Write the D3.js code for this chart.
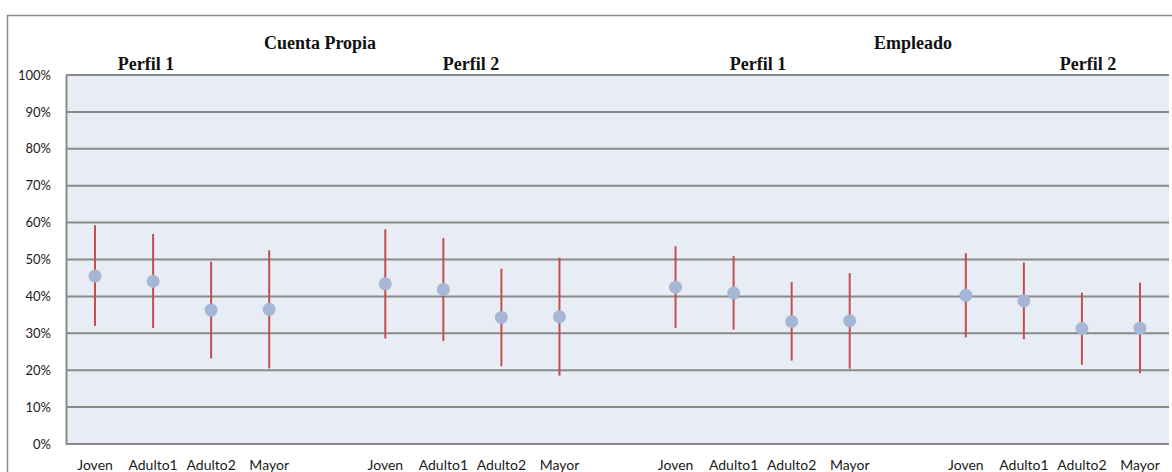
<!DOCTYPE html>
<html>
<head>
<meta charset="utf-8">
<script src="https://cdn.jsdelivr.net/npm/d3@7"></script>
<style>
  html, body { margin: 0; padding: 0; background: #ffffff; }
  svg { display: block; }
</style>
</head>
<body>
<svg id="chart" width="1172" height="472"></svg>
<script>
// Age categories shown within each profile group
const categories = ["Joven", "Adulto1", "Adulto2", "Mayor"];

// Sector / profile groups, left to right
const groups = ["CP-P1", "CP-P2", "E-P1", "E-P2"];

// Estimated share (%) per group, with the lower and upper bounds of each interval
const meanCP1 = [45.5, 44.1, 36.3, 36.5];
const lowCP1  = [32.0, 31.4, 23.2, 20.5];
const highCP1 = [59.3, 56.9, 49.4, 52.5];

const meanCP2 = [43.4, 41.9, 34.3, 34.5];
const lowCP2  = [28.6, 27.9, 21.1, 18.5];
const highCP2 = [58.2, 55.8, 47.5, 50.5];

const meanE1 = [42.5, 40.9, 33.2, 33.4];
const lowE1  = [31.4, 31.0, 22.6, 20.4];
const highE1 = [53.6, 50.9, 43.9, 46.3];

const meanE2 = [40.3, 38.8, 31.3, 31.4];
const lowE2  = [28.9, 28.4, 21.5, 19.2];
const highE2 = [51.7, 49.2, 41.0, 43.7];

// Y axis ticks (percent)
const yTicks = [0, 10, 20, 30, 40, 50, 60, 70, 80, 90, 100];

const seriesByGroup = {
  "CP-P1": { mean: meanCP1, low: lowCP1, high: highCP1 },
  "CP-P2": { mean: meanCP2, low: lowCP2, high: highCP2 },
  "E-P1":  { mean: meanE1,  low: lowE1,  high: highE1 },
  "E-P2":  { mean: meanE2,  low: lowE2,  high: highE2 }
};

// One slot per category, with an empty slot after each group
const slots = [];
groups.forEach((g, gi) => {
  categories.forEach(c => slots.push({ key: g + "|" + c, group: g, cat: c, empty: false }));
  if (gi < groups.length - 1) slots.push({ key: g + "|gap", group: g, cat: "", empty: true });
});

const points = [];
groups.forEach(g => {
  const s = seriesByGroup[g];
  categories.forEach((c, i) => {
    points.push({ key: g + "|" + c, mean: s.mean[i], low: s.low[i], high: s.high[i] });
  });
});

const svg = d3.select("#chart");

const plot = { left: 66, right: 1169, top: 75, bottom: 444 };

const x = d3.scaleBand()
  .domain(slots.map(d => d.key))
  .range([plot.left, plot.right])
  .paddingInner(0)
  .paddingOuter(0);

const y = d3.scaleLinear()
  .domain([0, 100])
  .range([plot.bottom, plot.top]);

const cx = k => x(k) + x.bandwidth() / 2;

// Outer chart frame
svg.append("rect")
  .attr("x", 7.5).attr("y", 15.5)
  .attr("width", 1180).attr("height", 480)
  .attr("fill", "none")
  .attr("stroke", "#8c8c8c")
  .attr("stroke-width", 1.5);

// Plot background
svg.append("rect")
  .attr("x", plot.left).attr("y", plot.top)
  .attr("width", plot.right - plot.left)
  .attr("height", plot.bottom - plot.top)
  .attr("fill", "#e8ecf4");

// Horizontal gridlines
svg.append("g")
  .selectAll("line")
  .data(yTicks)
  .join("line")
  .attr("x1", plot.left).attr("x2", plot.right)
  .attr("y1", d => y(d)).attr("y2", d => y(d))
  .attr("stroke", "#8a8a8a")
  .attr("stroke-width", 2);

// Y axis
const yAxis = d3.axisLeft(y)
  .tickValues(yTicks)
  .tickFormat(d => d + "%")
  .tickSize(0)
  .tickPadding(15);

const yg = svg.append("g")
  .attr("transform", `translate(${plot.left},0)`)
  .call(yAxis);
yg.select(".domain")
  .attr("stroke", "#8a8a8a")
  .attr("stroke-width", 2);
yg.selectAll("text")
  .attr("font-family", "Lato, 'Open Sans', sans-serif")
  .attr("font-size", 13)
  .attr("fill", "#1a1a1a");

// X axis with category labels (empty slots get no label)
const xAxis = d3.axisBottom(x)
  .tickSize(0)
  .tickPadding(16)
  .tickFormat(k => slots.find(s => s.key === k).cat);

const xg = svg.append("g")
  .attr("transform", `translate(0,${plot.bottom})`)
  .call(xAxis);
xg.select(".domain").remove();
xg.selectAll("text")
  .attr("font-family", "Lato, 'Open Sans', sans-serif")
  .attr("font-size", 14)
  .attr("fill", "#1a1a1a");

// Interval bars
svg.append("g")
  .selectAll("line")
  .data(points)
  .join("line")
  .attr("x1", d => cx(d.key)).attr("x2", d => cx(d.key))
  .attr("y1", d => y(d.low)).attr("y2", d => y(d.high))
  .attr("stroke", "#c0504d")
  .attr("stroke-width", 2);

// Point estimates
svg.append("g")
  .selectAll("circle")
  .data(points)
  .join("circle")
  .attr("cx", d => cx(d.key))
  .attr("cy", d => y(d.mean))
  .attr("r", 6.5)
  .attr("fill", "#a6b7d6");

// Sector and profile headings
const headings = [
  { text: "Cuenta Propia", x: 320, y: 49 },
  { text: "Perfil 1", x: 146, y: 70 },
  { text: "Perfil 2", x: 471, y: 70 },
  { text: "Empleado", x: 913, y: 49 },
  { text: "Perfil 1", x: 758, y: 70 },
  { text: "Perfil 2", x: 1088, y: 70 }
];

svg.append("g")
  .selectAll("text")
  .data(headings)
  .join("text")
  .attr("x", d => d.x)
  .attr("y", d => d.y)
  .attr("text-anchor", "middle")
  .attr("font-family", "'Liberation Serif', 'Times New Roman', serif")
  .attr("font-weight", "bold")
  .attr("font-size", 18)
  .attr("fill", "#111")
  .text(d => d.text);
</script>
</body>
</html>
